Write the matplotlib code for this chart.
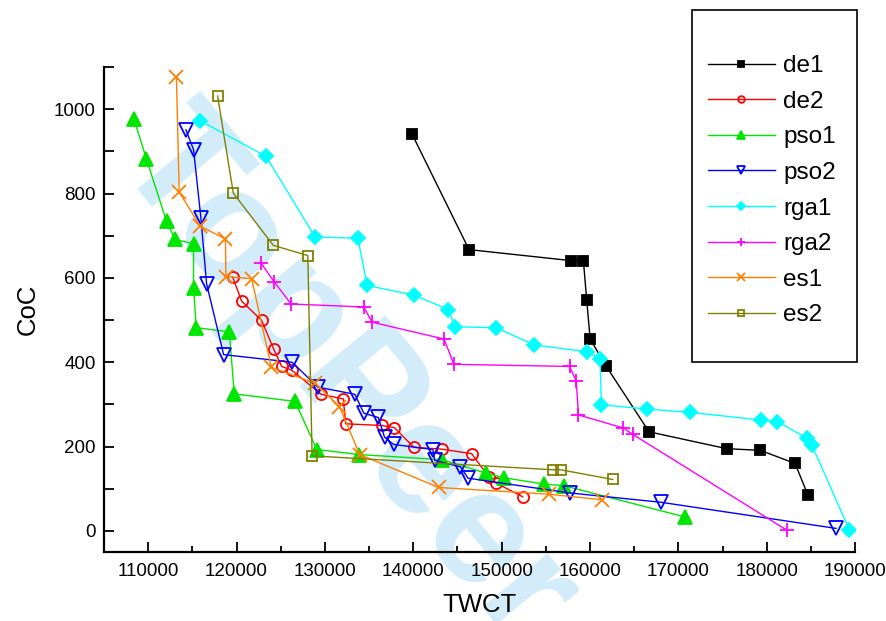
import matplotlib
matplotlib.use("Agg")
import matplotlib.pyplot as plt
from matplotlib.ticker import MultipleLocator
from matplotlib.patches import Rectangle

plt.rcParams['font.family'] = ['Liberation Sans', 'DejaVu Sans']

names = ['de1', 'de2', 'pso1', 'pso2', 'rga1', 'rga2', 'es1', 'es2']

de1_x = [139862, 146313, 157824, 159255, 159633, 160020, 161820, 166684, 175481, 179284, 183211, 184685]
de1_y = [941, 667, 641, 641, 547, 455, 391, 235, 195, 191, 160, 84]

de2_x = [119561, 120582, 122849, 124210, 125117, 126251, 129577, 132087, 132353, 136431, 137857,
         140087, 143222, 146616, 148577, 149334, 152390]
de2_y = [602, 545, 499, 431, 390, 381, 324, 313, 254, 250, 245, 198, 194, 183, 127, 114, 81]

pso1_x = [108400, 109811, 112079, 113061, 115140, 115140, 115442, 119184, 119750, 126629, 129085,
          133900, 143222, 148237, 150275, 154837, 157101, 170761]
pso1_y = [976, 882, 734, 691, 681, 577, 482, 472, 325, 307, 193, 181, 169, 137, 126, 111, 107, 33]

pso2_x = [114271, 115140, 115971, 116614, 118541, 126289, 129199, 133394, 134414, 136039, 136757,
          137778, 142237, 142427, 145337, 146206, 157732, 168011, 187850]
pso2_y = [951, 904, 742, 586, 418, 400, 341, 324, 279, 269, 222, 205, 193, 167, 152, 125, 90, 68, 6]

rga1_x = [115858, 123341, 128896, 133734, 134792, 140088, 143970, 144728, 149334, 153701, 159633,
          161140, 161289, 166493, 171327, 179329, 181210, 184538, 185104, 189360]
rga1_y = [973, 888, 697, 694, 582, 559, 525, 484, 482, 441, 425, 408, 299, 289, 281, 263, 259, 220, 204, 2]

rga2_x = [122774, 124286, 126175, 134414, 135321, 143484, 144600, 157700, 158450, 158700, 163780,
          164838, 182340]
rga2_y = [635, 590, 538, 531, 495, 455, 395, 390, 355, 275, 244, 229, 1]

es1_x = [113200, 113515, 115896, 118750, 118806, 121716, 123940, 128890, 131645, 133950, 142880,
         155340, 161330]
es1_y = [1077, 803, 723, 692, 603, 598, 388, 350, 295, 181, 103, 87, 74]

es2_x = [117861, 119637, 124172, 128065, 128556, 155760, 156680, 162574]
es2_y = [1031, 801, 677, 653, 178, 145, 145, 122]

xs = [de1_x, de2_x, pso1_x, pso2_x, rga1_x, rga2_x, es1_x, es2_x]
ys = [de1_y, de2_y, pso1_y, pso2_y, rga1_y, rga2_y, es1_y, es2_y]

colors = ['#000000', '#ff0000', '#00e600', '#0000ff', '#00ffff', '#ff00ff', '#ff8000', '#808000']
markers = ['s', 'o', '^', 'v', 'D', '+', 'x', 's']
msizes = [6.5, 8, 10, 10, 7.5, 10, 10, 6.5]
filled = [True, False, True, False, True, True, True, False]

fig = plt.figure(figsize=(8.87, 6.21), dpi=100)
ax = fig.add_axes([0.1172, 0.1111, 0.8468, 0.781])

# watermark
ax.text(345 / 887, 1 - 378 / 621, 'TopPeer', transform=fig.transFigure, rotation=-50.5, fontsize=116,
        fontweight='bold', color='#d2ecfa', ha='center', va='center', zorder=0, clip_on=False)

for i in range(len(names)):
    if filled[i]:
        face = colors[i]
    else:
        face = 'none'
    ax.plot(xs[i], ys[i], color=colors[i], lw=1, marker=markers[i], ms=msizes[i],
            markerfacecolor=face, markeredgecolor=colors[i], markeredgewidth=1.3,
            label=names[i], zorder=3)

ax.set_xlim(105000, 190000)
ax.set_ylim(-50, 1100)
ax.xaxis.set_major_locator(MultipleLocator(10000))
ax.xaxis.set_minor_locator(MultipleLocator(5000))
ax.yaxis.set_major_locator(MultipleLocator(200))
ax.yaxis.set_minor_locator(MultipleLocator(100))

ax.spines['top'].set_visible(False)
ax.spines['right'].set_visible(False)
ax.spines['left'].set_linewidth(1.6)
ax.spines['bottom'].set_linewidth(1.6)
ax.tick_params(which='both', direction='in', width=1.3, labelsize=13.5)
ax.tick_params(axis='x', which='major', length=7.5, pad=8)
ax.tick_params(axis='x', which='minor', length=4)
ax.tick_params(axis='y', which='both', length=7, pad=6)

ax.set_xlabel('TWCT', fontsize=18.5, labelpad=9)
ax.set_ylabel('CoC', fontsize=18.5, labelpad=10)

leg = fig.legend(loc='upper left', bbox_to_anchor=(708 / 887, 1 - 55 / 621), fontsize=17.5,
                 markerscale=0.6, handlelength=2.75, handletextpad=0.35, labelspacing=0.56,
                 borderpad=0, borderaxespad=0, frameon=False)

fig.patches.append(Rectangle((692 / 887, 1 - 362 / 621), (857 - 692) / 887, (362 - 10) / 621,
                             transform=fig.transFigure, fill=False, lw=1.2, edgecolor='black'))

fig.savefig('out.png', dpi=100)
